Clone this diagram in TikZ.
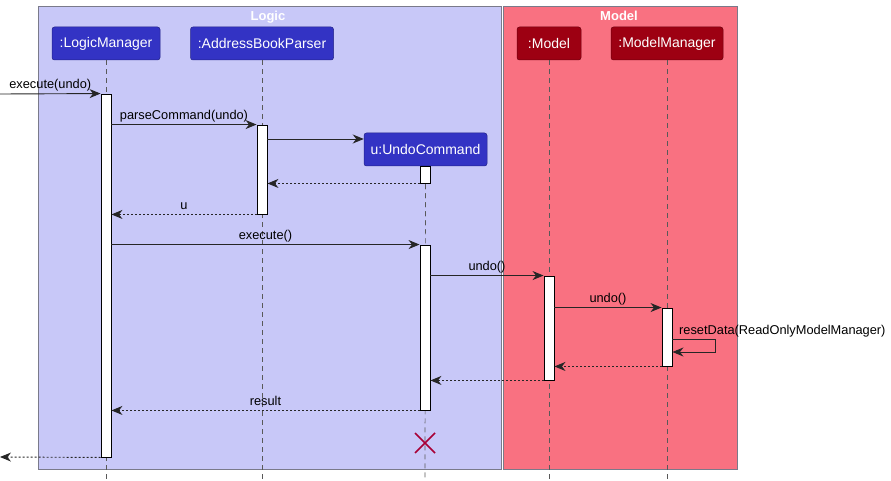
\documentclass[tikz,border=0pt]{standalone}
\usepackage{fontspec}
\setmainfont{Liberation Sans}
\usetikzlibrary{arrows.meta,calc}
\definecolor{logicbg}{HTML}{C8C8F8}
\definecolor{modelbg}{HTML}{F97181}
\definecolor{logicpart}{HTML}{3333C4}
\definecolor{modelpart}{HTML}{9D0012}
\definecolor{framegray}{HTML}{7A7A8A}
\definecolor{destroyred}{HTML}{A80036}
\begin{document}
\begin{tikzpicture}[x=1pt,y=-1pt,
  box/.style={draw=framegray,line width=0.8pt},
  boxtitle/.style={text=white,font=\fontsize{13}{15}\selectfont\bfseries,anchor=base},
  part/.style={draw=#1!70!black,fill=#1,rounded corners=2.5pt,text=white,
    font=\fontsize{14}{16}\selectfont,minimum height=33,inner sep=0pt,line width=0.5pt},
  lifeline/.style={draw=black!65,dash pattern=on 5pt off 4pt,line width=0.7pt},
  act/.style={draw=black,fill=white,minimum width=10,inner sep=0pt,line width=0.9pt},
  msg/.style={draw=black!85,line width=0.9pt,-{Stealth[length=11pt,width=9pt,inset=3.5pt]}},
  ret/.style={msg,dash pattern=on 2pt off 2pt},
  lbl/.style={font=\fontsize{12.8}{14}\selectfont,anchor=base,inner sep=0pt},
  mlbl/.style={lbl,midway,yshift=5pt}]
\path[use as bounding box] (0,0) rectangle (891,481);

% package frames
\draw[box,fill=logicbg] (38,6) rectangle (501,469);
\draw[box,fill=modelbg] (503,6) rectangle (737,469);
\node[boxtitle] (tlogic) at (268,21) {Logic};
\node[boxtitle] (tmodel) at (619,21) {Model};

% participants
\node[part=logicpart,minimum width=108] (lm) at (106,43.5) {:LogicManager};
\node[part=logicpart,minimum width=143] (abp) at (262,43.5) {:AddressBookParser};
\node[part=modelpart,minimum width=64] (mdl) at (549,43.5) {:Model};
\node[part=modelpart,minimum width=112] (mm) at (667,43.5) {:ModelManager};
\node[part=logicpart,minimum width=123] (uc) at (425.5,149.5) {u:UndoCommand};

% lifelines
\coordinate (lmEnd) at (106,481);
\coordinate (abpEnd) at (262,481);
\coordinate (mdlEnd) at (549,481);
\coordinate (mmEnd) at (667,481);
\coordinate (ucEnd) at (425,481);
\draw[lifeline] (lm.south) -- (lmEnd);
\draw[lifeline] (abp.south) -- (abpEnd);
\draw[lifeline] (mdl.south) -- (mdlEnd);
\draw[lifeline] (mm.south) -- (mmEnd);
\draw[lifeline] (uc.south) -- (ucEnd);

% activation bars
\node[act,minimum height=363] (aLM) at (106,275.5) {};
\node[act,minimum height=89] (aABP) at (262,169.5) {};
\node[act,minimum height=17] (aUC1) at (425,174.5) {};
\node[act,minimum height=165] (aUC2) at (425,327.5) {};
\node[act,minimum height=104] (aMDL) at (549,328) {};
\node[act,minimum height=58] (aMM) at (667,337) {};

% destruction mark
\node[inner sep=0pt,minimum size=1pt] (ucX) at (425,443) {};
\draw[destroyred,line width=1.6pt] ($(ucX)+(-10,-10)$) -- ($(ucX)+(10,10)$);
\draw[destroyred,line width=1.6pt] ($(ucX)+(-10,10)$) -- ($(ucX)+(10,-10)$);

% incoming call and final return
\coordinate (callerIn) at (0,94);
\coordinate (callerOut) at (0,457);
\draw[msg] (callerIn) -- (aLM.north west) node[mlbl] {execute(undo)};
\draw[ret] (aLM.south west) -- (callerOut);

% parsing
\draw[msg] (aLM.east |- aABP.north) -- (aABP.north west) node[mlbl] {parseCommand(undo)};
\draw[msg] (aABP.east |- 0,139) -- (uc.west |- 0,139);
\draw[ret] (aUC1.south west) -- (aABP.east |- aUC1.south);
\draw[ret] (aABP.south west) -- (aLM.east |- aABP.south) node[mlbl] {u};

% executing the command
\draw[msg] (aLM.east |- aUC2.north) -- (aUC2.north west) node[mlbl] {execute()};
\draw[msg] (aUC2.east |- aMDL.north) -- (aMDL.north west) node[mlbl] {undo()};
\draw[msg] (aMDL.east |- aMM.north) -- (aMM.north west) node[mlbl] {undo()};
\draw[msg] (aMM.east |- 0,339) -- ++(43,0) -- ++(0,13) -- (aMM.east |- 0,352);
\node[lbl,anchor=base west] (resetLbl) at (679,334) {resetData(ReadOnlyModelManager)};
\draw[ret] (aMM.south west) -- (aMDL.east |- aMM.south);
\draw[ret] (aMDL.south west) -- (aUC2.east |- aMDL.south);
\draw[ret] (aUC2.south west) -- (aLM.east |- aUC2.south) node[mlbl] {result};
\end{tikzpicture}
\end{document}
